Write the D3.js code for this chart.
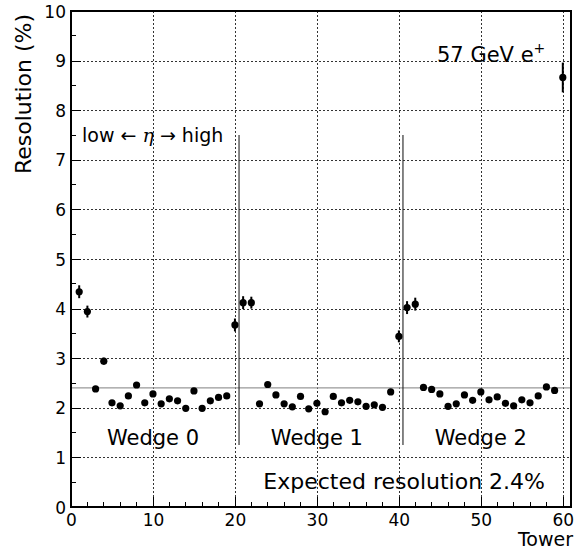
<!DOCTYPE html>
<html>
<head>
<meta charset="utf-8">
<script src="https://cdn.jsdelivr.net/npm/d3@7"></script>
<style>
  body { margin: 0; background: #fff; }
  svg text { font-family: "DejaVu Sans", sans-serif; fill: #000; }
  .grid line, .tick line, .minor line { shape-rendering: crispEdges; }
</style>
</head>
<body>
<svg id="chart" width="584" height="552"></svg>
<script>
// tower number, measured resolution (%) and its error
var towers = [1,2,3,4,5,6,7,8,9,10,11,12,13,14,15,16,17,18,19,20,
              21,22,23,24,25,26,27,28,29,30,31,32,33,34,35,36,37,38,39,40,
              41,42,43,44,45,46,47,48,49,50,51,52,53,54,55,56,57,58,59,60];
var resolution = [4.34,3.94,2.38,2.94,2.10,2.04,2.24,2.46,2.10,2.28,
                  2.08,2.18,2.14,1.99,2.34,1.99,2.14,2.21,2.24,3.67,
                  4.12,4.12,2.08,2.47,2.26,2.08,2.02,2.23,1.98,2.09,
                  1.92,2.23,2.10,2.15,2.12,2.03,2.06,2.01,2.32,3.44,
                  4.02,4.09,2.41,2.37,2.28,2.03,2.08,2.26,2.15,2.32,
                  2.16,2.22,2.09,2.04,2.16,2.10,2.24,2.42,2.35,8.66];
var errors = [0.13,0.12,0.05,0.07,0.05,0.05,0.05,0.05,0.05,0.05,
              0.05,0.05,0.05,0.05,0.05,0.05,0.05,0.05,0.05,0.13,
              0.13,0.12,0.05,0.05,0.05,0.05,0.05,0.05,0.05,0.05,
              0.05,0.05,0.05,0.05,0.05,0.05,0.05,0.05,0.05,0.12,
              0.13,0.13,0.05,0.05,0.05,0.05,0.05,0.05,0.05,0.05,
              0.05,0.05,0.05,0.05,0.05,0.05,0.05,0.05,0.05,0.30];

var xTicks = [0,10,20,30,40,50,60];
var yTicks = [0,1,2,3,4,5,6,7,8,9,10];
var expected = 2.4;
var separators = [20.5, 40.5];
var wedges = [{name: "Wedge 0", x: 10}, {name: "Wedge 1", x: 30}, {name: "Wedge 2", x: 50}];

var margin = {top: 11, right: 13, bottom: 45, left: 71},
    width = 584 - margin.left - margin.right,
    height = 552 - margin.top - margin.bottom;

var svg = d3.select("#chart");
var g = svg.append("g").attr("transform", "translate(" + margin.left + "," + margin.top + ")");

var x = d3.scaleLinear().domain([0, 61]).range([0, width]);
var y = d3.scaleLinear().domain([0, 10]).range([height, 0]);

// dotted grid
g.append("g").attr("class", "grid").selectAll("line")
    .data(xTicks.filter(function(d) { return d > 0; }))
  .enter().append("line")
    .attr("x1", function(d) { return Math.round(x(d)) + 0.5; })
    .attr("x2", function(d) { return Math.round(x(d)) + 0.5; })
    .attr("y1", 0).attr("y2", height)
    .attr("stroke", "#333").attr("stroke-width", 1)
    .attr("stroke-dasharray", "2,2");
g.append("g").attr("class", "grid").selectAll("line")
    .data(yTicks.filter(function(d) { return d > 0 && d < 10; }))
  .enter().append("line")
    .attr("x1", 0).attr("x2", width)
    .attr("y1", function(d) { return Math.round(y(d)) + 0.5; })
    .attr("y2", function(d) { return Math.round(y(d)) + 0.5; })
    .attr("stroke", "#333").attr("stroke-width", 1)
    .attr("stroke-dasharray", "2,2");

// expected resolution line
g.append("line")
    .attr("x1", 0).attr("x2", width)
    .attr("y1", y(expected)).attr("y2", y(expected))
    .attr("stroke", "#999").attr("stroke-width", 1.2);

// wedge separators
g.append("g").selectAll("line")
    .data(separators)
  .enter().append("line")
    .attr("x1", x).attr("x2", x)
    .attr("y1", y(7.5)).attr("y2", y(1.25))
    .attr("stroke", "#222").attr("stroke-width", 1.1);

// minor ticks
var xMinor = d3.range(0, 61, 2).filter(function(d) { return d % 10 != 0; });
var yMinor = d3.range(0.5, 10, 1);
g.append("g").attr("class", "minor").selectAll("line")
    .data(xMinor)
  .enter().append("line")
    .attr("x1", x).attr("x2", x)
    .attr("y1", height).attr("y2", height - 5)
    .attr("stroke", "#000").attr("stroke-width", 1);
g.append("g").attr("class", "minor").selectAll("line")
    .data(yMinor)
  .enter().append("line")
    .attr("x1", 0).attr("x2", 5)
    .attr("y1", y).attr("y2", y)
    .attr("stroke", "#000").attr("stroke-width", 1);

// axes
var xAxis = g.append("g")
    .attr("transform", "translate(0," + height + ")")
    .call(d3.axisBottom(x).tickValues(xTicks).tickSize(-10).tickPadding(7).tickFormat(d3.format("d")));
var yAxis = g.append("g")
    .call(d3.axisLeft(y).tickValues(yTicks).tickSize(-10).tickPadding(5).tickFormat(d3.format("d")));
[xAxis, yAxis].forEach(function(a) {
  a.select(".domain").remove();
  a.selectAll("text").style("font-size", "17px").attr("fill", "#000");
  a.selectAll(".tick line").attr("stroke-width", 1);
});
yAxis.selectAll("text").attr("dy", "0.36em");

// frame
g.append("rect")
    .attr("x", 0).attr("y", 0)
    .attr("width", width).attr("height", height)
    .attr("fill", "none").attr("stroke", "#000").attr("stroke-width", 2);

// data points with error bars
var pts = towers.map(function(t, i) { return {t: t, v: resolution[i], e: errors[i]}; });
var pt = g.append("g").selectAll("g")
    .data(pts)
  .enter().append("g");
pt.append("line")
    .attr("x1", function(d) { return x(d.t); })
    .attr("x2", function(d) { return x(d.t); })
    .attr("y1", function(d) { return y(d.v + d.e); })
    .attr("y2", function(d) { return y(d.v - d.e); })
    .attr("stroke", "#000").attr("stroke-width", 2);
pt.append("circle")
    .attr("cx", function(d) { return x(d.t); })
    .attr("cy", function(d) { return y(d.v); })
    .attr("r", 3.6)
    .attr("fill", "#000");

// labels
g.selectAll(".wedge")
    .data(wedges)
  .enter().append("text")
    .attr("class", "wedge")
    .attr("x", function(d) { return x(d.x); })
    .attr("y", y(1.25))
    .attr("text-anchor", "middle")
    .style("font-size", "21px")
    .text(function(d) { return d.name; });

g.append("text")
    .attr("x", width - 26).attr("y", y(0.37))
    .attr("text-anchor", "end")
    .style("font-size", "22px")
    .text("Expected resolution " + expected + "%");

var beam = g.append("text")
    .attr("x", 366).attr("y", 51)
    .style("font-size", "21px");
beam.append("tspan").text("57 GeV e");
beam.append("tspan").attr("dy", -9).style("font-size", "14px").text("+");

var eta = g.append("text")
    .attr("x", 11).attr("y", 131)
    .style("font-size", "19px");
eta.append("tspan").text("low \u2190 ");
eta.append("tspan").style("font-style", "italic").style("font-family", "DejaVu Serif").text("\u03b7");
eta.append("tspan").text(" \u2192 high");

svg.append("text")
    .attr("transform", "translate(31,94) rotate(-90)")
    .attr("text-anchor", "middle")
    .style("font-size", "22px")
    .text("Resolution (%)");

svg.append("text")
    .attr("x", 573).attr("y", 546)
    .attr("text-anchor", "end")
    .style("font-size", "19px")
    .text("Tower");
</script>
</body>
</html>
